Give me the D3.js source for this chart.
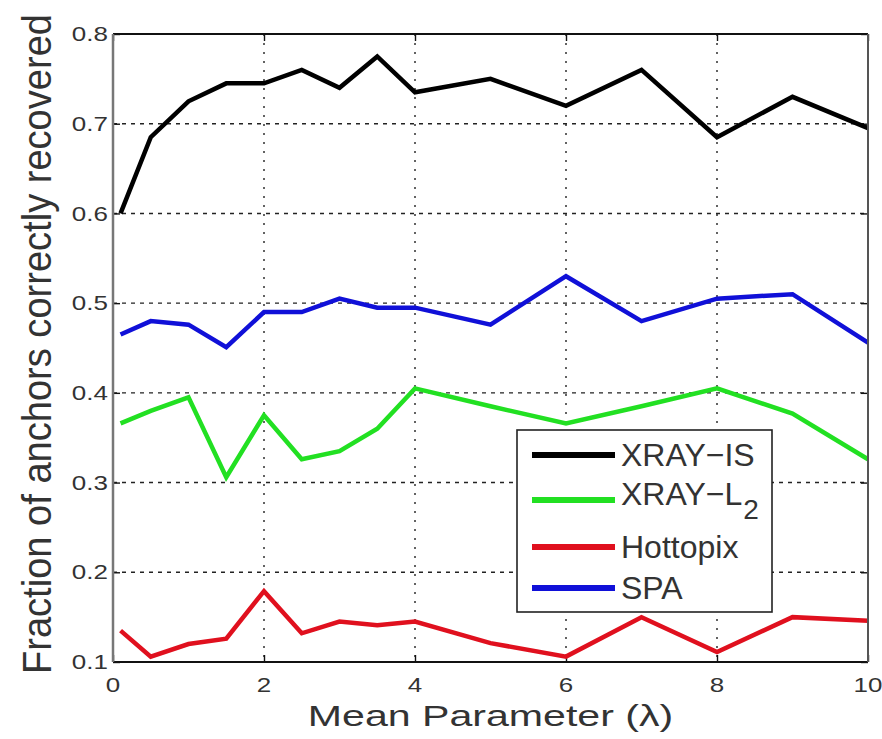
<!DOCTYPE html>
<html>
<head>
<meta charset="utf-8">
<script src="https://cdn.jsdelivr.net/npm/d3@7/dist/d3.min.js"></script>
<style>
  html, body { margin: 0; padding: 0; background: #fff; }
  svg { display: block; font-family: "Liberation Sans", Arial, Helvetica, sans-serif; }
  .tick-label { fill: #333; font-size: 20px; }
  .axis-title { fill: #333; font-size: 30px; }
  .legend-label { fill: #333; font-size: 32px; }
</style>
</head>
<body>
<svg id="chart" width="882" height="739"></svg>
<script>
const X_VALUES = [0.1, 0.5, 1, 1.5, 2, 2.5, 3, 3.5, 4, 5, 6, 7, 8, 9, 10];
const XRAY_IS = [0.600, 0.685, 0.725, 0.745, 0.745, 0.760, 0.740, 0.775, 0.735, 0.750, 0.720, 0.760, 0.685, 0.730, 0.695];
const XRAY_L2 = [0.366, 0.380, 0.395, 0.306, 0.375, 0.326, 0.335, 0.360, 0.405, 0.385, 0.366, 0.385, 0.405, 0.377, 0.326];
const HOTTOPIX = [0.135, 0.106, 0.120, 0.126, 0.179, 0.132, 0.145, 0.141, 0.145, 0.121, 0.106, 0.150, 0.111, 0.150, 0.146];
const SPA = [0.465, 0.480, 0.476, 0.451, 0.490, 0.490, 0.505, 0.495, 0.495, 0.476, 0.530, 0.480, 0.505, 0.510, 0.456];

const SERIES_NAMES = ["XRAY−IS", "XRAY−L", "Hottopix", "SPA"];
const SERIES_COLORS = ["#000000", "#22e022", "#e0101e", "#1010d8"];
const SERIES_VALUES = [XRAY_IS, XRAY_L2, HOTTOPIX, SPA];

const X_TICKS = [0, 2, 4, 6, 8, 10];
const Y_TICKS = [0.1, 0.2, 0.3, 0.4, 0.5, 0.6, 0.7, 0.8];

const plot = { left: 113, right: 868, top: 34, bottom: 662 };

const svg = d3.select("#chart");

const x = d3.scaleLinear().domain([0, 10]).range([plot.left, plot.right]);
const y = d3.scaleLinear().domain([0.1, 0.8]).range([plot.bottom, plot.top]);

// grid lines (matlab style dotted)
const grid = svg.append("g").attr("class", "grid");
grid.selectAll("line.vgrid")
  .data(X_TICKS.filter(t => t > 0 && t < 10))
  .join("line")
  .attr("x1", d => x(d)).attr("x2", d => x(d))
  .attr("y1", plot.top).attr("y2", plot.bottom)
  .attr("stroke", "#222").attr("stroke-width", 1.4)
  .attr("stroke-dasharray", "2,7");

grid.selectAll("line.hgrid")
  .data(Y_TICKS.filter(t => t > 0.1 && t < 0.8))
  .join("line")
  .attr("x1", plot.left).attr("x2", plot.right)
  .attr("y1", d => y(d)).attr("y2", d => y(d))
  .attr("stroke", "#222").attr("stroke-width", 1.4)
  .attr("stroke-dasharray", "4,5");

// inward tick marks via d3 axes
const tickLen = 7;
svg.append("g")
  .attr("transform", `translate(0,${plot.bottom})`)
  .call(d3.axisTop(x).tickValues(X_TICKS).tickSize(tickLen).tickFormat(""))
  .call(g => g.select(".domain").remove());
svg.append("g")
  .attr("transform", `translate(0,${plot.top})`)
  .call(d3.axisBottom(x).tickValues(X_TICKS).tickSize(tickLen).tickFormat(""))
  .call(g => g.select(".domain").remove());
svg.append("g")
  .attr("transform", `translate(${plot.left},0)`)
  .call(d3.axisRight(y).tickValues(Y_TICKS).tickSize(tickLen).tickFormat(""))
  .call(g => g.select(".domain").remove());
svg.append("g")
  .attr("transform", `translate(${plot.right},0)`)
  .call(d3.axisLeft(y).tickValues(Y_TICKS).tickSize(tickLen).tickFormat(""))
  .call(g => g.select(".domain").remove());
svg.selectAll(".tick line").attr("stroke", "#111").attr("stroke-width", 1.4);

// series lines
const line = d3.line()
  .x((d, i) => x(X_VALUES[i]))
  .y(d => y(d));

svg.append("g").selectAll("path")
  .data(SERIES_VALUES)
  .join("path")
  .attr("d", d => line(d))
  .attr("fill", "none")
  .attr("stroke", (d, i) => SERIES_COLORS[i])
  .attr("stroke-width", 4.5)
  .attr("stroke-linejoin", "miter");

// frame
svg.append("line").attr("x1", plot.left).attr("x2", plot.right)
  .attr("y1", plot.top).attr("y2", plot.top).attr("stroke", "#111").attr("stroke-width", 2);
svg.append("line").attr("x1", plot.left).attr("x2", plot.right)
  .attr("y1", plot.bottom).attr("y2", plot.bottom).attr("stroke", "#111").attr("stroke-width", 2);
svg.append("line").attr("x1", plot.left).attr("x2", plot.left)
  .attr("y1", plot.top).attr("y2", plot.bottom).attr("stroke", "#777").attr("stroke-width", 2.5);
svg.append("line").attr("x1", plot.right).attr("x2", plot.right)
  .attr("y1", plot.top).attr("y2", plot.bottom).attr("stroke", "#555").attr("stroke-width", 2);

// tick labels
svg.append("g").selectAll("text")
  .data(Y_TICKS)
  .join("text")
  .attr("class", "tick-label")
  .attr("transform", d => `translate(108,${y(d)}) scale(1.3,1)`)
  .attr("text-anchor", "end")
  .attr("dy", "0.36em")
  .text(d => d3.format(".1f")(d));

svg.append("g").selectAll("text")
  .data(X_TICKS)
  .join("text")
  .attr("class", "tick-label")
  .attr("transform", d => `translate(${x(d)},692) scale(1.3,1)`)
  .attr("text-anchor", "middle")
  .text(d => d);

// axis titles
svg.append("text")
  .attr("class", "axis-title")
  .attr("transform", `translate(${(plot.left + plot.right) / 2},726) scale(1.37,1)`)
  .attr("text-anchor", "middle")
  .text("Mean Parameter (λ)");

svg.append("text")
  .attr("class", "axis-title")
  .attr("transform", `translate(51,${(plot.top + plot.bottom) / 2 - 4}) rotate(-90) scale(1,1.12)`)
  .attr("text-anchor", "middle")
  .attr("textLength", 660)
  .attr("lengthAdjust", "spacingAndGlyphs")
  .style("font-size", "37px")
  .text("Fraction of anchors correctly recovered");

// legend
const legendBox = { x: 517, y: 430, w: 255, h: 182 };
const legendRows = [455, 500, 547, 588];
const legend = svg.append("g");
legend.append("rect")
  .attr("x", legendBox.x).attr("y", legendBox.y)
  .attr("width", legendBox.w).attr("height", legendBox.h)
  .attr("fill", "#fff").attr("stroke", "#222").attr("stroke-width", 1.6);

const rows = legend.selectAll("g.row")
  .data(SERIES_NAMES)
  .join("g")
  .attr("class", "row")
  .attr("transform", (d, i) => `translate(0,${legendRows[i]})`);

rows.append("line")
  .attr("x1", 532).attr("x2", 615)
  .attr("y1", 0).attr("y2", 0)
  .attr("stroke", (d, i) => SERIES_COLORS[i])
  .attr("stroke-width", 6);

rows.append("text")
  .attr("class", "legend-label")
  .attr("x", 621)
  .attr("y", (d, i) => i === 1 ? 5 : 11)
  .each(function (d, i) {
    const t = d3.select(this);
    t.append("tspan").text(d);
    if (i === 1) {
      t.append("tspan").attr("dx", 1).attr("dy", 14).style("font-size", "28px").text("2");
    }
  });
</script>
</body>
</html>
